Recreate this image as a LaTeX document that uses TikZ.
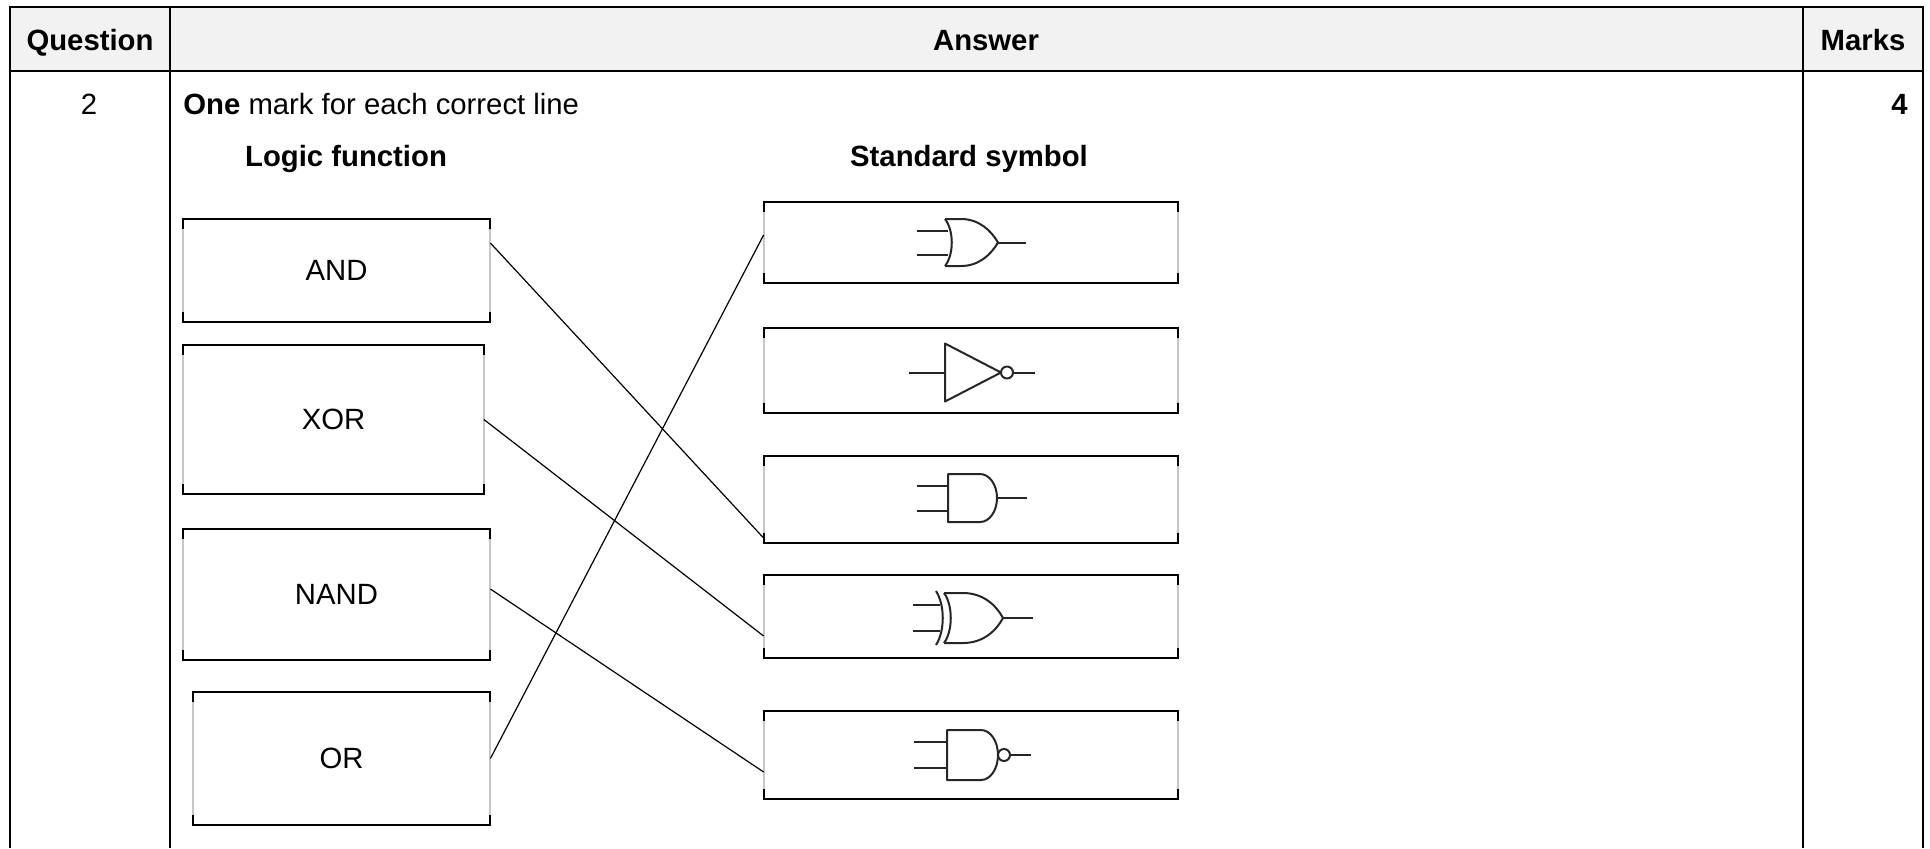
\documentclass[tikz,border=0pt]{standalone}
\usepackage{fontspec}
\setmainfont{Liberation Sans}
\usetikzlibrary{calc}
\definecolor{headgrey}{HTML}{F2F2F2}
\begin{document}
\begin{tikzpicture}[x=0.5pt, y=-0.5pt,
    txt/.style={font=\fontsize{14.65}{17}\selectfont, inner sep=0pt},
    headtxt/.style={font=\fontsize{14.65}{17}\selectfont\bfseries, inner sep=0pt},
    tableline/.style={line width=1.2pt},
    funcbox/.style={txt, draw=none, minimum width=153.5pt},
    symbox/.style={draw=none, inner sep=0pt, minimum width=207pt},
    sideline/.style={line width=1pt, black!22},
    rimline/.style={line width=1pt},
    link/.style={line width=0.6pt},
    gate/.style={line width=1pt, black!85, line join=round}]
    \useasboundingbox (0,0) rectangle (1930,848);
    % Tabela
    \fill[headgrey] (10,7) rectangle (1923,71);
    \draw[tableline] (10,848) -- (10,7) -- (1923,7) -- (1923,848);
    \draw[tableline] (10,71) -- (1923,71);
    \draw[tableline] (170,7) -- (170,848);
    \draw[tableline] (1803,7) -- (1803,848);
    % Cabecalho
    \node[headtxt, anchor=base] (qhead) at (90,50) {Question};
    \node[headtxt, anchor=base] (ahead) at (986,50) {Answer};
    \node[headtxt, anchor=base] (mhead) at (1863,50) {Marks};
    \node[txt, anchor=base] (qnum) at (89,114) {2};
    \node[txt, anchor=base west] (note) at (183,114) {\textbf{One} mark for each correct line};
    \node[headtxt, anchor=base east] (mark) at (1908,114) {4};
    \node[headtxt, anchor=base] (lfhead) at (346,166) {Logic function};
    \node[headtxt, anchor=base] (sshead) at (969,166) {Standard symbol};
    % Caixas das funcoes
    \node[funcbox, minimum height=51.5pt] (andfn) at (336.5,270.5) {AND};
    \node[funcbox, minimum width=150pt, minimum height=74.5pt] (xorfn) at (333.5,419.5) {XOR};
    \node[funcbox, minimum height=65.5pt] (nandfn) at (336.5,594.5) {NAND};
    \node[funcbox, minimum width=148.5pt, minimum height=66.5pt] (orfn) at (341.5,758.5) {OR};
    % Caixas dos simbolos
    \node[symbox, minimum height=40.5pt] (orsym) at (971,242.5) {};
    \node[symbox, minimum height=42.5pt] (notsym) at (971,370.5) {};
    \node[symbox, minimum height=43.5pt] (andsym) at (971,499.5) {};
    \node[symbox, minimum height=41.5pt] (xorsym) at (971,616.5) {};
    \node[symbox, minimum height=44pt] (nandsym) at (971,755) {};
    % Bordas das caixas
    \foreach \b in {andfn,xorfn,nandfn,orfn,orsym,notsym,andsym,xorsym,nandsym} {
        \draw[sideline] (\b.north west) -- (\b.south west) (\b.north east) -- (\b.south east);
        \draw[rimline] ([yshift=-5pt]\b.north west) -- (\b.north west) -- (\b.north east) -- ([yshift=-5pt]\b.north east);
        \draw[rimline] ([yshift=5pt]\b.south west) -- (\b.south west) -- (\b.south east) -- ([yshift=5pt]\b.south east);
    }
    % Portas logicas
    \begin{scope}[shift={(orsym.center)}]
        \draw[gate] (-26,-23.5) .. controls (-17,-12) and (-17,12) .. (-26,23.5);
        \draw[gate] (-26,-23.5) -- (-10,-23.5) .. controls (8,-23.5) and (20,-12) .. (27,0)
            .. controls (20,12) and (8,23.5) .. (-10,23.5) -- (-26,23.5);
        \draw[gate] (-54,-12) -- (-23,-12) (-54,12) -- (-23,12) (27,0) -- (55,0);
    \end{scope}
    \begin{scope}[shift={(notsym.center)}, yshift=-1pt]
        \draw[gate] (-26,-29) -- (30,0) -- (-26,29) -- cycle;
        \draw[gate] (36,0) circle[radius=3pt];
        \draw[gate] (-62,0) -- (-26,0) (42,0) -- (64,0);
    \end{scope}
    \begin{scope}[shift={(andsym.center)}, yshift=0.75pt]
        \draw[gate] (-23,-24) -- (9,-24) .. controls (18.4,-24) and (26,-13.3) .. (26,0)
            .. controls (26,13.3) and (18.4,24) .. (9,24) -- (-23,24) -- cycle;
        \draw[gate] (-54,-12.5) -- (-23,-12.5) (-54,12.5) -- (-23,12.5) (26,0) -- (56,0);
    \end{scope}
    \begin{scope}[shift={(xorsym.center)}, yshift=-0.75pt]
        \draw[gate] (-35,-27) .. controls (-26,-13) and (-26,13) .. (-35,27);
        \draw[gate] (-27,-25) .. controls (-18,-13) and (-18,13) .. (-27,25);
        \draw[gate] (-27,-25) -- (-8,-25) .. controls (12,-25) and (25,-13) .. (32,0)
            .. controls (25,13) and (12,25) .. (-8,25) -- (-27,25);
        \draw[gate] (-58,-13) -- (-31,-13) (-58,13) -- (-31,13) (32,0) -- (62,0);
    \end{scope}
    \begin{scope}[shift={(nandsym.center)}]
        \draw[gate] (-24,-25) -- (10,-25) .. controls (19.4,-25) and (27,-13.8) .. (27,0)
            .. controls (27,13.8) and (19.4,25) .. (10,25) -- (-24,25) -- cycle;
        \draw[gate] (33,0) circle[radius=3pt];
        \draw[gate] (-57,-13) -- (-24,-13) (-57,13) -- (-24,13) (39,0) -- (60,0);
    \end{scope}
    % Ligacoes
    \draw[link] ($(andfn.east)+(0,-27.5)$) -- ($(andsym.west)+(0,38.5)$);
    \draw[link] (xorfn.east) -- ($(xorsym.west)+(0,19.5)$);
    \draw[link] ($(nandfn.east)+(0,-5.5)$) -- ($(nandsym.west)+(0,17)$);
    \draw[link] (orfn.east) -- ($(orsym.west)+(0,-7.5)$);
\end{tikzpicture}
\end{document}
